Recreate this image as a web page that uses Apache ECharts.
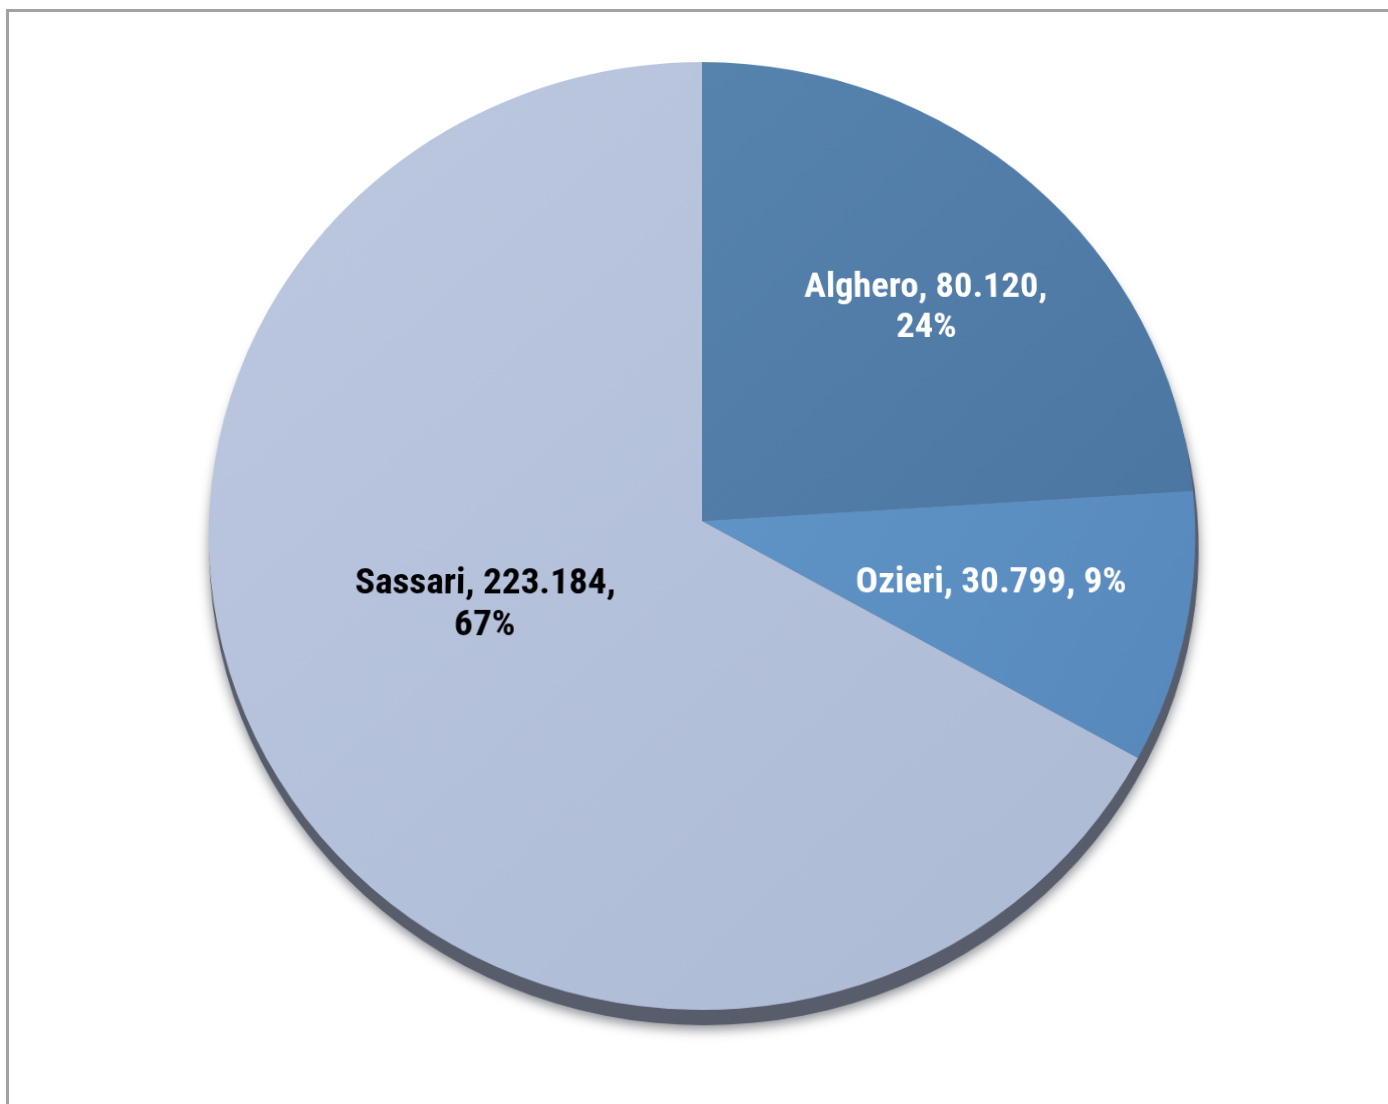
<!DOCTYPE html>
<html>
<head>
<meta charset="utf-8">
<script src="https://cdn.jsdelivr.net/npm/echarts@6/dist/echarts.min.js"></script>
<style>
  html, body { margin: 0; padding: 0; background: #fff; overflow: hidden; }
  body { width: 1388px; height: 1104px; position: relative; }
  #frame {
    position: absolute; left: 6px; top: 9px; width: 1400px; height: 1120px;
    border-left: 3px solid #a2a2a2; border-top: 3px solid #a2a2a2;
    box-sizing: border-box;
  }
  #chart {
    position: absolute; left: 0; top: 0; width: 1388px; height: 1104px;
    /* tilt the disc backwards a little, like a perspective pie */
    transform-origin: 702px 521px;
    transform: perspective(4343px) rotateX(16.2deg);
  }
</style>
</head>
<body>
<div id="frame"></div>
<div id="chart"></div>
<script>
// Residents per municipality
const categories = ['Alghero', 'Ozieri', 'Sassari'];
const residents = [80120, 30799, 223184];

// Pie geometry (canvas px) and the tilt applied by the CSS transform
const CX = 702, CY = 521, R = 493;
const TILT = 16.2 * Math.PI / 180, PERSP = 4343;

// Where each label block sits on screen, relative to the pie centre
const labelSpots = [[224, -213], [289, 62], [-217, 84]];

// Undo the perspective tilt so a label lands on the wanted screen spot
function unproject(sx, sy) {
  const c = Math.cos(TILT), s = Math.sin(TILT);
  const Y = sy * PERSP / (c * PERSP + sy * s);
  const X = sx * (PERSP - Y * s) / PERSP;
  return [CX + X, CY + Y];
}

function itNumber(v) {
  return String(v).replace(/\B(?=(\d{3})+(?!\d))/g, '.');
}

const sliceColors = [
  ['#5683ae', '#4b76a1'],
  ['#5f94c7', '#5788bb'],
  ['#bcc8e0', '#adbad4']
];
const labelColors = ['#ffffff', '#ffffff', '#000000'];
const wrapAfterValue = [true, false, true];

const total = residents.reduce((a, b) => a + b, 0);

const chart = echarts.init(document.getElementById('chart'), null, { renderer: 'canvas' });

chart.setOption({
  animation: false,
  backgroundColor: 'transparent',
  series: [
    {
      // drop shadow under the disc
      type: 'pie',
      silent: true,
      center: [CX + 2, CY + 14],
      radius: R + 1,
      startAngle: 90,
      label: { show: false },
      labelLine: { show: false },
      itemStyle: {
        color: '#575d6b',
        shadowBlur: 12,
        shadowColor: 'rgba(40,44,55,0.55)',
        shadowOffsetY: 4
      },
      data: [{ name: 'total', value: total }]
    },
    {
      type: 'pie',
      center: [CX, CY],
      radius: R,
      startAngle: 90,
      clockwise: true,
      labelLine: { show: false },
      label: {
        show: true,
        position: 'inside',
        fontFamily: "'Roboto Condensed', 'Open Sans Condensed', sans-serif",
        fontWeight: 'bold',
        fontSize: 37,
        lineHeight: 43,
        align: 'center',
        formatter: function (p) {
          const i = p.dataIndex;
          const sep = wrapAfterValue[i] ? ',\n' : ', ';
          return p.name + ', ' + itNumber(p.value) + sep + Math.round(p.percent) + '%';
        }
      },
      labelLayout: function (params) {
        const spot = labelSpots[params.dataIndex];
        const pt = unproject(spot[0], spot[1]);
        return { x: pt[0], y: pt[1], align: 'center', verticalAlign: 'middle' };
      },
      data: categories.map(function (name, i) {
        return {
          name: name,
          value: residents[i],
          itemStyle: {
            borderWidth: 0,
            color: new echarts.graphic.LinearGradient(0, 0, 1, 1, [
              { offset: 0, color: sliceColors[i][0] },
              { offset: 1, color: sliceColors[i][1] }
            ])
          },
          label: { color: labelColors[i] }
        };
      })
    }
  ]
});
</script>
</body>
</html>
